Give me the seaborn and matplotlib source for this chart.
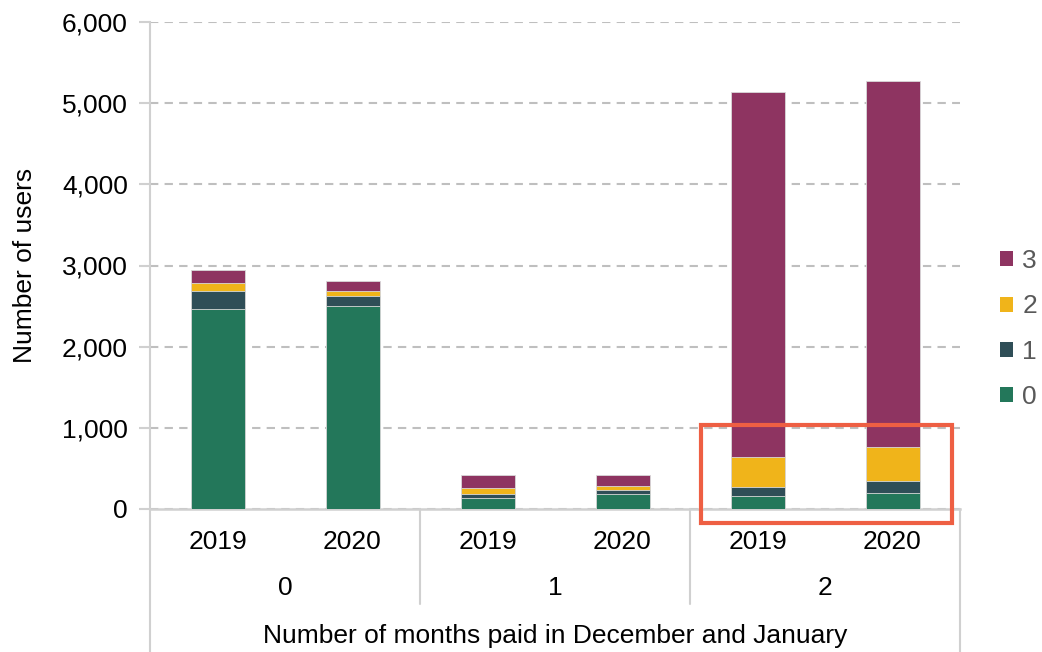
import matplotlib
matplotlib.use("Agg")
import matplotlib.pyplot as plt
import matplotlib.patches as mpatches
import matplotlib.lines as mlines
import matplotlib.ticker as mticker
import seaborn as sns
import pandas as pd
import numpy as np

# ---- data ----
groups = ["0", "0", "1", "1", "2", "2"]
years = ["2019", "2020", "2019", "2020", "2019", "2020"]
group_labels = ["0", "1", "2"]
series_names = ["0", "1", "2", "3"]
s0 = [2470, 2505, 130, 190, 165, 200]
s1 = [215, 120, 55, 50, 100, 145]
s2 = [95, 60, 70, 45, 370, 425]
s3 = [160, 120, 160, 130, 4505, 4500]
colors = ["#23775A", "#2F4E57", "#F0B41A", "#8E3461"]

sns.set_theme(style="white")
plt.rcParams["font.family"] = ["Liberation Sans", "DejaVu Sans"]
FS = 19

fig = plt.figure(figsize=(10.42, 6.52), dpi=100)
ax = fig.add_axes([150 / 1042, 1 - 509 / 652, (960 - 150) / 1042, (509 - 22) / 652])

xcat = [f"{g}-{y}" for g, y in zip(groups, years)]
series = [s0, s1, s2, s3]
cum = np.cumsum(np.array(series), axis=0)

# draw stacked from top layer down
for i in range(3, -1, -1):
    df = pd.DataFrame({"x": xcat, "y": cum[i]})
    sns.barplot(data=df, x="x", y="y", order=xcat, color=colors[i], width=0.4,
                edgecolor="#D9D9D9", linewidth=0.6, saturation=1, ax=ax, zorder=3)

ax.set_xlim(-0.5, 5.5)
ax.set_ylim(0, 6000)
ax.yaxis.set_major_locator(mticker.MultipleLocator(1000))
ax.yaxis.set_major_formatter(mticker.FuncFormatter(lambda v, p: f"{int(v):,}"))
ax.yaxis.grid(True, color="#BFBFBF", linestyle=(0, (4, 3)), linewidth=1.5, zorder=0)
ax.set_axisbelow(True)

for sp in ["top", "right"]:
    ax.spines[sp].set_visible(False)
ax.spines["left"].set_color("#D0D0D0")
ax.spines["left"].set_linewidth(1.5)
ax.spines["bottom"].set_color("#D0D0D0")
ax.spines["bottom"].set_linewidth(1.8)

ax.tick_params(axis="y", which="major", left=True, length=8, width=1.5, color="#D0D0D0",
               labelsize=FS, pad=8, labelcolor="black")
ax.tick_params(axis="x", bottom=False, labelsize=FS, pad=9, labelcolor="black")
ax.set_xticks(range(6))
ax.set_xticklabels(years)
ax.set_xlabel("")
ax.set_ylabel("Number of users", fontsize=FS, labelpad=18, color="black")

# group labels and separators
trans = ax.get_xaxis_transform()
for k, gl in enumerate(group_labels):
    ax.text(2 * k + 0.5, -(588 - 509) / 487, gl, transform=trans, ha="center", va="center",
            fontsize=FS, color="black")
ax.text(2.5, -(636 - 509) / 487, "Number of months paid in December and January",
        transform=trans, ha="center", va="center", fontsize=FS, color="black")
sep_c = "#D0D0D0"
for xs in [1.5, 3.5]:
    ax.add_line(mlines.Line2D([xs, xs], [0, -(604 - 509) / 487], transform=trans,
                              color=sep_c, lw=1.5, clip_on=False))
for xs in [-0.5, 5.5]:
    ax.add_line(mlines.Line2D([xs, xs], [0, -(652 - 509) / 487], transform=trans,
                              color=sep_c, lw=1.5, clip_on=False))

# highlight rectangle
rect = mpatches.Rectangle((3.58, -172), 5.44 - 3.58, 1035 + 172, fill=False,
                          edgecolor="#EE5F43", linewidth=3, clip_on=False, zorder=5)
ax.add_patch(rect)

# legend
handles = [mpatches.Patch(facecolor=colors[i], edgecolor="none", label=series_names[i])
           for i in range(3, -1, -1)]
leg = fig.legend(handles=handles, loc="center left", bbox_to_anchor=(1000 / 1042, 1 - 329 / 652),
                 frameon=False, fontsize=FS, handlelength=0.5, handleheight=0.5,
                 handletextpad=0.35, labelspacing=0.8, borderaxespad=0, borderpad=0)
for t in leg.get_texts():
    t.set_color("#595959")

fig.savefig("out.png", dpi=100)
